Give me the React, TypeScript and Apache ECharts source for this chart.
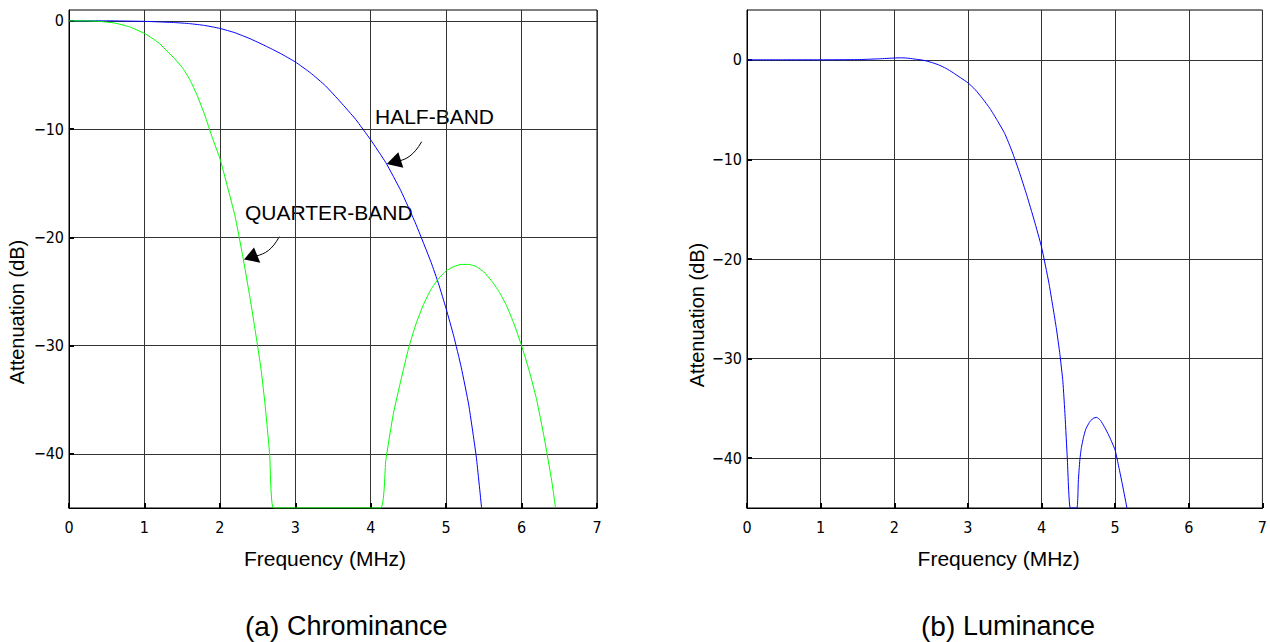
import React, { useEffect, useRef } from 'react';
import * as echarts from 'echarts';

// ---- data ----
const freqTicks = [0, 1, 2, 3, 4, 5, 6, 7];
const dbTicks = [-40, -30, -20, -10, 0];

// Chrominance, half-band filter (blue) [MHz, dB]
const halfBand: [number, number][] = [
  [0, 0], [0.5, 0], [1.0, -0.05], [1.2, -0.1], [1.4, -0.16], [1.6, -0.26], [1.8, -0.43],
  [2.0, -0.7], [2.2, -1.1], [2.4, -1.65], [2.6, -2.3], [2.8, -3.0], [3.0, -3.8],
  [3.2, -4.8], [3.4, -6.0], [3.6, -7.5], [3.8, -9.1], [4.0, -11.0], [4.2, -13.1],
  [4.4, -15.7], [4.6, -18.8], [4.8, -22.3], [4.9, -24.3], [5.0, -26.6], [5.1, -29.1],
  [5.2, -32.0], [5.3, -35.5], [5.4, -40.3], [5.47, -45],
];

// Chrominance, quarter-band filter (green) [MHz, dB]
const quarterBand: [number, number][] = [
  [0, 0], [0.2, 0], [0.4, -0.05], [0.6, -0.2], [0.8, -0.55], [1.0, -1.16], [1.1, -1.6],
  [1.2, -2.1], [1.3, -2.8], [1.4, -3.5], [1.5, -4.3], [1.6, -5.4], [1.7, -6.9],
  [1.8, -8.7], [1.9, -10.8], [2.0, -12.7], [2.1, -15.3], [2.2, -18.0], [2.3, -21.6],
  [2.4, -25.6], [2.5, -30.0], [2.55, -32.4], [2.6, -35.5], [2.66, -40], [2.71, -45],
  [3.0, -45], [3.5, -45], [4.13, -45],
  [4.2, -40.6], [4.3, -36.3], [4.4, -33.2], [4.5, -30.3], [4.6, -28.0], [4.7, -26.2],
  [4.8, -24.8], [4.9, -23.8], [5.0, -23.1], [5.1, -22.7], [5.2, -22.5], [5.3, -22.5],
  [5.4, -22.7], [5.5, -23.2], [5.6, -24.0], [5.7, -25.0], [5.8, -26.3], [5.9, -28.0],
  [6.0, -30.0], [6.1, -32.3], [6.2, -35.0], [6.3, -38.5], [6.4, -42.5], [6.45, -45],
];

// Luminance filter (blue) [MHz, dB]
const luminance: [number, number][] = [
  [0, 0], [0.5, 0], [1.0, 0], [1.5, 0.02], [1.8, 0.1], [2.0, 0.18], [2.1, 0.2],
  [2.2, 0.15], [2.3, 0.05], [2.4, -0.05], [2.5, -0.25], [2.6, -0.5], [2.7, -0.85],
  [2.8, -1.3], [2.9, -1.8], [3.0, -2.3], [3.1, -3.0], [3.2, -3.9], [3.3, -4.9],
  [3.4, -6.1], [3.5, -7.4], [3.6, -9.2], [3.7, -11.3], [3.8, -13.6], [3.9, -16.1],
  [4.0, -18.8], [4.1, -22.4], [4.2, -26.9], [4.25, -29.6], [4.29, -32.3], [4.32, -35.8],
  [4.35, -40], [4.39, -45], [4.48, -45], [4.5, -42.3], [4.52, -40.2], [4.54, -39.0],
  [4.57, -37.9], [4.6, -37.1], [4.65, -36.4], [4.7, -36.0], [4.75, -35.9], [4.8, -36.2],
  [4.85, -36.8], [4.9, -37.5], [4.95, -38.3], [5.0, -39.2], [5.05, -40.9], [5.1, -42.7], [5.16, -45],
];

const NARROW = '"Liberation Sans Narrow", "DejaVu Sans Condensed", sans-serif';
const SANS = '"Liberation Sans", Arial, sans-serif';

const fmtTick = (v: number) => String(v).replace('-', '\u2212');

function xAxis(gridIndex: number, shift: number) {
  return {
    type: 'value', gridIndex, min: 0, max: 7, interval: 1,
    name: 'Frequency (MHz)', nameLocation: 'middle', nameGap: 40,
    nameTextStyle: { fontFamily: SANS, fontSize: 21, color: '#000', padding: [0, shift, 0, 0] },
    axisLine: { show: true, onZero: false, lineStyle: { color: '#000', width: 1 } },
    axisTick: { show: true, inside: true, length: 5, lineStyle: { color: '#000', width: 2 } },
    axisLabel: { fontFamily: NARROW, fontSize: 16, color: '#000', margin: 11, formatter: fmtTick, customValues: freqTicks },
    splitLine: { show: true, lineStyle: { color: '#333', width: 1 } },
  };
}

function yAxis(gridIndex: number, max: number, gap: number, shift: number) {
  return {
    type: 'value', gridIndex, min: -45, max,
    name: 'Attenuation (dB)', nameLocation: 'middle', nameGap: gap,
    nameTextStyle: { fontFamily: SANS, fontSize: 20, color: '#000', padding: [0, shift, 0, 0] },
    axisLine: { show: true, onZero: false, lineStyle: { color: '#000', width: 1 } },
    axisTick: { show: true, inside: true, length: 5, lineStyle: { color: '#000', width: 2 }, customValues: dbTicks },
    axisLabel: { fontFamily: NARROW, fontSize: 16, color: '#000', margin: 5, formatter: fmtTick, customValues: dbTicks },
    splitLine: { show: true, lineStyle: { color: '#333', width: 1 } },
  };
}

function line(name: string, data: [number, number][], color: string, idx: number) {
  return {
    type: 'line', name, data, xAxisIndex: idx, yAxisIndex: idx,
    showSymbol: false, smooth: 0.15, clip: true,
    lineStyle: { color, width: 1 },
  };
}

export default function App() {
  const ref = useRef<HTMLDivElement>(null);
  useEffect(() => {
    if (!ref.current) return;
    const chart = echarts.init(ref.current, null, { renderer: 'svg' });
    const arrowStyle = { stroke: '#000', lineWidth: 1, fill: 'none' };
    const caption = (x: number, tag: string, word: string) => ({
      type: 'text', x, y: 626,
      style: {
        text: `{a|${tag} }{b|${word}}`, verticalAlign: 'middle',
        rich: {
          a: { fontFamily: SANS, fontSize: 28, fill: '#000' },
          b: { fontFamily: SANS, fontSize: 27, fill: '#000' },
        },
      },
    });
    chart.setOption({
      animation: false,
      backgroundColor: '#fff',
      grid: [
        { left: 69, top: 10, width: 528, height: 498, show: true, borderColor: '#000', borderWidth: 1 },
        { left: 747, top: 10, width: 517, height: 498, show: true, borderColor: '#000', borderWidth: 1 },
      ],
      xAxis: [xAxis(0, 16), xAxis(1, 12)],
      yAxis: [yAxis(0, 1, 42, 106), yAxis(1, 5, 40, 112)],
      series: [
        line('HALF-BAND', halfBand, '#0000ff', 0),
        line('QUARTER-BAND', quarterBand, '#00ff00', 0),
        line('Luminance', luminance, '#0000ff', 1),
      ],
      graphic: [
        { type: 'text', x: 375, y: 116, style: { text: 'HALF-BAND', fontFamily: SANS, fontSize: 21, fill: '#000', verticalAlign: 'middle' } },
        { type: 'text', x: 245, y: 212, style: { text: 'QUARTER-BAND', fontFamily: SANS, fontSize: 21, fill: '#000', verticalAlign: 'middle' } },
        { type: 'bezierCurve', shape: { x1: 421.7, y1: 141.7, cpx1: 414, cpy1: 155, cpx2: 406, cpy2: 160, x2: 398, y2: 161 }, style: arrowStyle },
        { type: 'polygon', shape: { points: [[386.7, 164], [398.3, 152.3], [403.3, 167.7]] }, style: { fill: '#000' } },
        { type: 'bezierCurve', shape: { x1: 279.3, y1: 236.7, cpx1: 272, cpy1: 250, cpx2: 265, cpy2: 254, x2: 256, y2: 256 }, style: arrowStyle },
        { type: 'polygon', shape: { points: [[244, 259.5], [254, 247.5], [260.3, 262.7]] }, style: { fill: '#000' } },
        caption(245, '(a)', 'Chrominance'),
        caption(921, '(b)', 'Luminance'),
      ],
    });
    return () => chart.dispose();
  }, []);
  return <div ref={ref} style={{ position: 'absolute', left: 0, top: 0, width: 1270, height: 642 }} />;
}
